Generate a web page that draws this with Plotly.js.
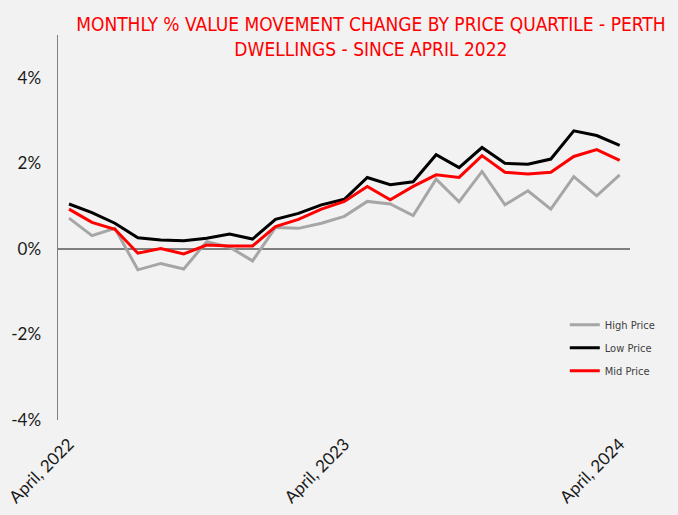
<!DOCTYPE html>
<html>
<head>
<meta charset="utf-8">
<script src="https://cdn.plot.ly/plotly-3.0.1.min.js"></script>
<style>html,body{margin:0;padding:0;background:#f2f2f2;}#chart{width:678px;height:515px;}</style>
</head>
<body>
<div id="chart"></div>
<script>
const months = ["Apr 2022","May 2022","Jun 2022","Jul 2022","Aug 2022","Sep 2022","Oct 2022","Nov 2022","Dec 2022","Jan 2023","Feb 2023","Mar 2023","Apr 2023","May 2023","Jun 2023","Jul 2023","Aug 2023","Sep 2023","Oct 2023","Nov 2023","Dec 2023","Jan 2024","Feb 2024","Mar 2024","Apr 2024"];
const highPrice = [0.72,0.31,0.48,-0.49,-0.34,-0.47,0.17,0.04,-0.28,0.50,0.48,0.60,0.76,1.11,1.05,0.78,1.63,1.10,1.81,1.03,1.36,0.93,1.69,1.24,1.73];
const lowPrice  = [1.05,0.85,0.60,0.26,0.21,0.19,0.25,0.35,0.23,0.69,0.83,1.03,1.16,1.67,1.50,1.57,2.20,1.90,2.37,2.00,1.98,2.10,2.76,2.65,2.42];
const midPrice  = [0.93,0.62,0.46,-0.10,0.01,-0.12,0.09,0.07,0.07,0.52,0.69,0.93,1.11,1.46,1.15,1.46,1.73,1.67,2.18,1.79,1.75,1.79,2.16,2.32,2.07];
const xTickVals = ["Apr 2022","Apr 2023","Apr 2024"];
const xTickText = ["April, 2022","April, 2023","April, 2024"];
const yTickVals = [-4,-2,0,2,4];
const yTickText = ["-4%","-2%","0%","2%","4%"];

const traces = [
  {x: months, y: highPrice, name: "High Price", legendgroup: "h", type: "scatter", mode: "lines", line: {color: "#a6a6a6", width: 3}},
  {x: months, y: lowPrice, name: "Low Price", legendgroup: "l", type: "scatter", mode: "lines", line: {color: "#000000", width: 3}},
  {x: months, y: midPrice, name: "Mid Price", legendgroup: "m", type: "scatter", mode: "lines", line: {color: "#ff0000", width: 3}}
];

const layout = {
  width: 678, height: 515,
  paper_bgcolor: "#f2f2f2", plot_bgcolor: "#f2f2f2",
  margin: {l: 58, r: 48, t: 35, b: 95},
  title: {
    text: "MONTHLY % VALUE MOVEMENT CHANGE BY PRICE QUARTILE - PERTH<br>DWELLINGS - SINCE APRIL 2022",
    font: {family: "DejaVu Sans Condensed, sans-serif", size: 19, color: "#ff0000"},
    x: 0.547, xanchor: "center", y: 0.94, yanchor: "middle", xref: "paper", yref: "container"
  },
  xaxis: {
    type: "category", range: [-0.48, 24.45],
    tickvals: xTickVals, ticktext: xTickText, tickangle: -45,
    showgrid: false, zeroline: false, showline: false, ticks: "",
    ticklabelstandoff: 10,
    tickfont: {family: "Lato, sans-serif", size: 17, color: "#1a1a1a"}
  },
  yaxis: {
    range: [-4, 5], tickvals: yTickVals, ticktext: yTickText,
    showgrid: false, zeroline: true, zerolinecolor: "#7f7f7f", zerolinewidth: 1.5,
    showline: true, linecolor: "#7f7f7f", linewidth: 1.5, ticks: "",
    ticklabelstandoff: 12,
    tickfont: {family: "Lato, sans-serif", size: 17, color: "#1a1a1a"}
  },
  showlegend: true,
  legend: {
    x: 0.886, y: 0.285, xanchor: "left", yanchor: "top",
    tracegroupgap: 4,
    bgcolor: "rgba(0,0,0,0)", font: {family: "DejaVu Sans Condensed, sans-serif", size: 11, color: "#404040"},
    itemwidth: 30
  }
};

Plotly.newPlot("chart", traces, layout, {displayModeBar: false, staticPlot: true});
</script>
</body>
</html>
